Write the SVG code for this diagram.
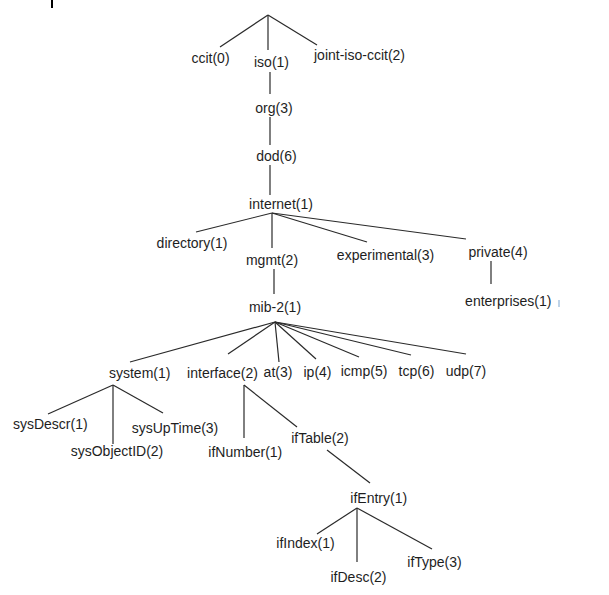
<svg xmlns="http://www.w3.org/2000/svg" width="609" height="595" viewBox="0 0 609 595">
<style>
text{font-family:"Liberation Sans",Arial,sans-serif;font-size:14px;fill:#1e1e1e;text-anchor:middle}
.c line{stroke:#2a2a2a;stroke-width:1.2;fill:none}
</style>
<rect width="609" height="595" fill="#fff"/>
<line x1="52" y1="0" x2="52" y2="8" stroke="#000" stroke-width="2"/>
<line x1="559" y1="300" x2="559" y2="307" stroke="#a9c4e0" stroke-width="1.5"/>
<g id="connectors" class="c">
<line x1="268" y1="15" x2="220" y2="47"/>
<line x1="268" y1="15" x2="268" y2="50"/>
<line x1="268" y1="15" x2="317" y2="45"/>
<line x1="270" y1="72" x2="270" y2="94"/>
<line x1="270" y1="117" x2="270" y2="145"/>
<line x1="270" y1="165" x2="270" y2="195"/>
<line x1="272" y1="213" x2="196" y2="232"/>
<line x1="272" y1="213" x2="272" y2="248"/>
<line x1="272" y1="213" x2="367" y2="242"/>
<line x1="272" y1="213" x2="466" y2="239"/>
<line x1="491" y1="261" x2="491" y2="284"/>
<line x1="274" y1="269" x2="274" y2="294"/>
<line x1="275" y1="322" x2="130" y2="362"/>
<line x1="275" y1="322" x2="228" y2="354"/>
<line x1="275" y1="322" x2="279" y2="362"/>
<line x1="275" y1="322" x2="316" y2="359"/>
<line x1="275" y1="322" x2="359" y2="357"/>
<line x1="275" y1="322" x2="411" y2="355"/>
<line x1="275" y1="322" x2="466" y2="354"/>
<line x1="113" y1="385" x2="48" y2="414"/>
<line x1="113" y1="385" x2="113" y2="444"/>
<line x1="113" y1="385" x2="163" y2="413"/>
<line x1="244" y1="385" x2="244" y2="438"/>
<line x1="244" y1="385" x2="297" y2="427"/>
<line x1="327" y1="450" x2="370" y2="483"/>
<line x1="357" y1="508" x2="317" y2="534"/>
<line x1="357" y1="508" x2="357" y2="562"/>
<line x1="357" y1="508" x2="432" y2="549"/>
</g>
<g id="ccit"><text x="210.5" y="63">ccit(0)</text></g>
<g id="iso"><text x="271.5" y="67">iso(1)</text></g>
<g id="joint-iso-ccit"><text x="359.5" y="60">joint-iso-ccit(2)</text></g>
<g id="org"><text x="274" y="113">org(3)</text></g>
<g id="dod"><text x="276.5" y="161">dod(6)</text></g>
<g id="internet"><text x="281" y="209">internet(1)</text></g>
<g id="directory"><text x="192" y="248">directory(1)</text></g>
<g id="mgmt"><text x="272" y="265">mgmt(2)</text></g>
<g id="experimental"><text x="385.5" y="260">experimental(3)</text></g>
<g id="private"><text x="498" y="257">private(4)</text></g>
<g id="enterprises"><text x="508.3" y="306">enterprises(1)</text></g>
<g id="mib-2"><text x="275" y="312">mib-2(1)</text></g>
<g id="system"><text x="139.7" y="377.5">system(1)</text></g>
<g id="interface"><text x="222.5" y="377.5">interface(2)</text></g>
<g id="at"><text x="278" y="377">at(3)</text></g>
<g id="ip"><text x="317.5" y="376.5">ip(4)</text></g>
<g id="icmp"><text x="364" y="376">icmp(5)</text></g>
<g id="tcp"><text x="416.5" y="376">tcp(6)</text></g>
<g id="udp"><text x="466" y="376">udp(7)</text></g>
<g id="sysDescr"><text x="50.3" y="429.3">sysDescr(1)</text></g>
<g id="sysUpTime"><text x="175" y="433.3">sysUpTime(3)</text></g>
<g id="sysObjectID"><text x="117" y="456">sysObjectID(2)</text></g>
<g id="ifNumber"><text x="245.3" y="456.7">ifNumber(1)</text></g>
<g id="ifTable"><text x="320" y="443.3">ifTable(2)</text></g>
<g id="ifEntry"><text x="378.7" y="502.7">ifEntry(1)</text></g>
<g id="ifIndex"><text x="305.5" y="547.7">ifIndex(1)</text></g>
<g id="ifType"><text x="434.5" y="566.7">ifType(3)</text></g>
<g id="ifDesc"><text x="358.5" y="581.7">ifDesc(2)</text></g>
</svg>
